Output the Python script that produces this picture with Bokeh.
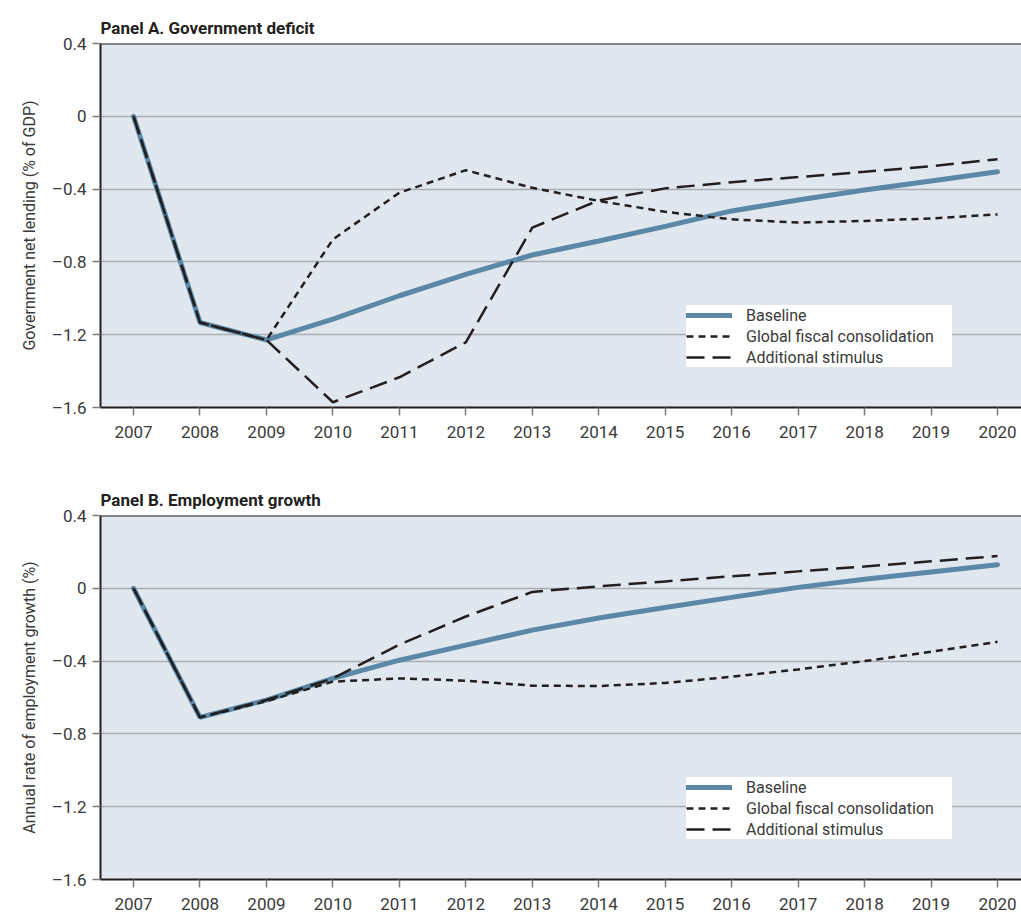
from bokeh.plotting import figure
from bokeh.layouts import column
from bokeh.models import FixedTicker, Legend, LegendItem, Span, Range1d
from bokeh.embed import file_html
from bokeh.resources import INLINE

years = list(range(2007, 2021))

# Panel A: Government net lending (% of GDP)
a_baseline = [0.0, -1.133, -1.229, -1.114, -0.986, -0.868, -0.762, -0.685, -0.605, -0.52, -0.46, -0.405, -0.355, -0.305]
a_consolidation = [0.0, -1.133, -1.229, -0.676, -0.42, -0.296, -0.393, -0.465, -0.525, -0.566, -0.584, -0.575, -0.561, -0.539]
a_stimulus = [0.0, -1.133, -1.229, -1.571, -1.434, -1.242, -0.612, -0.462, -0.396, -0.362, -0.334, -0.305, -0.274, -0.236]

# Panel B: Annual rate of employment growth (%)
b_baseline = [0.0, -0.709, -0.614, -0.495, -0.395, -0.312, -0.23, -0.163, -0.105, -0.05, 0.005, 0.05, 0.09, 0.13]
b_consolidation = [0.0, -0.709, -0.62, -0.513, -0.495, -0.508, -0.535, -0.537, -0.52, -0.486, -0.446, -0.40, -0.349, -0.294]
b_stimulus = [0.0, -0.709, -0.614, -0.495, -0.31, -0.155, -0.02, 0.011, 0.038, 0.066, 0.093, 0.12, 0.148, 0.177]

y_ticks = [0.4, 0.0, -0.4, -0.8, -1.2, -1.6]
y_tick_labels = ["0.4", "0", "\u20130.4", "\u20130.8", "\u20131.2", "\u20131.6"]
series_names = ["Baseline", "Global fiscal consolidation", "Additional stimulus"]

FONT = "Roboto"
DARK = "#231f20"
TEXT = "#3a3a3a"
BLUE = "#5a88a6"
BG = "#e1e7ef"
GRID = "#a9acb0"


def make_panel(title, ylabel, base, cons, stim, height, top, bottom):
    p = figure(width=1021, height=height, output_backend="svg", toolbar_location=None,
               x_range=Range1d(2006.503, 2020.361), y_range=Range1d(-1.6, 0.4),
               min_border_left=100, min_border_right=0, min_border_top=top,
               min_border_bottom=bottom, title=title)
    p.background_fill_color = BG
    p.border_fill_color = "white"
    p.outline_line_color = None

    p.title.text_font = FONT
    p.title.text_font_size = "17px"
    p.title.text_font_style = "bold"
    p.title.text_color = DARK
    p.title.align = "left"
    p.title.offset = 0
    p.title.standoff = 12

    p.xgrid.grid_line_color = None
    p.ygrid.grid_line_color = GRID
    p.ygrid.grid_line_width = 1.5
    p.ygrid.ticker = FixedTicker(ticks=y_ticks)

    p.xaxis.ticker = FixedTicker(ticks=years)
    p.yaxis.ticker = FixedTicker(ticks=y_ticks)
    p.yaxis.major_label_overrides = {t: l for t, l in zip(y_ticks, y_tick_labels)}
    for ax in (p.xaxis, p.yaxis):
        ax.axis_line_color = DARK
        ax.axis_line_width = 2
        ax.major_tick_line_color = "#7a7a7a"
        ax.major_tick_line_width = 1.5
        ax.major_tick_out = 8
        ax.major_tick_in = 0
        ax.minor_tick_line_color = None
        ax.major_label_text_font = FONT
        ax.major_label_text_font_size = "17px"
        ax.major_label_text_color = TEXT
    p.xaxis.major_label_standoff = 10
    p.yaxis.major_label_standoff = 6
    p.yaxis.axis_label = ylabel
    p.yaxis.axis_label_text_font = FONT
    p.yaxis.axis_label_text_font_size = "16px"
    p.yaxis.axis_label_text_font_style = "normal"
    p.yaxis.axis_label_text_color = TEXT
    p.yaxis.axis_label_standoff = 10

    p.add_layout(Span(location=0.4, dimension="width", line_color=DARK, line_width=2))

    r_base = p.line(years, base, line_color=BLUE, line_width=5, line_cap="round")
    r_cons = p.line(years, cons, line_color=DARK, line_width=2.5, line_dash="7 5")
    r_stim = p.line(years, stim, line_color=DARK, line_width=2.5, line_dash="18 8")

    legend = Legend(items=[LegendItem(label=series_names[0], renderers=[r_base]),
                           LegendItem(label=series_names[1], renderers=[r_cons]),
                           LegendItem(label=series_names[2], renderers=[r_stim])],
                    location=(586, 40), orientation="vertical",
                    background_fill_color="white", background_fill_alpha=1.0,
                    border_line_color=None, padding=6, spacing=1, margin=0,
                    glyph_width=46, glyph_height=20, label_height=20,
                    label_width=206, label_standoff=14, label_text_font=FONT,
                    label_text_font_size="16px", label_text_color=TEXT)
    p.add_layout(legend)
    return p


pa = make_panel("Panel A.  Government deficit", "Government net lending (% of GDP)",
                a_baseline, a_consolidation, a_stimulus, 457, 43, 50)
pb = make_panel("Panel B.  Employment growth", "Annual rate of employment growth (%)",
                b_baseline, b_consolidation, b_stimulus, 457, 58, 35)

layout = column(pa, pb, spacing=0)
open("out.html", "w").write(file_html(layout, INLINE))
